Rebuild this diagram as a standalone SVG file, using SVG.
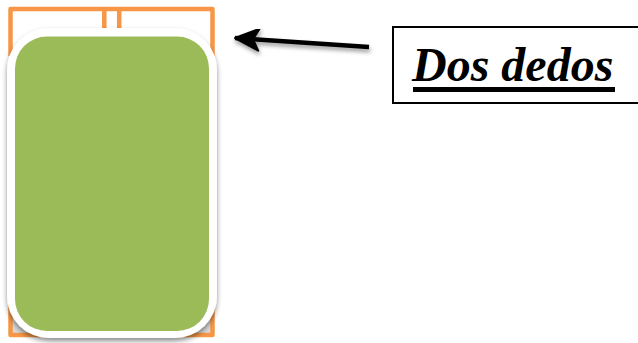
<svg xmlns="http://www.w3.org/2000/svg" width="638" height="343" viewBox="0 0 638 343">
<style>
.o{fill:none;stroke:#f79646;stroke-width:4.500;stroke-linejoin:round}
text{font-family:"Liberation Serif","Times New Roman",serif;font-weight:bold;font-style:italic;font-size:48px;fill:#000}
</style>
<defs>
<filter id="s" x="-10%" y="-10%" width="120%" height="120%"><feDropShadow dx="0" dy="3" stdDeviation="2.500" flood-color="#000" flood-opacity="0.45"/></filter>
<filter id="a" x="-20%" y="-100%" width="140%" height="320%"><feDropShadow dx="1" dy="3" stdDeviation="2" flood-color="#000" flood-opacity="0.4"/></filter>
<marker id="h" markerUnits="userSpaceOnUse" markerWidth="30" markerHeight="28" refX="27" refY="14" orient="auto" viewBox="0 0 30 28"><path d="M27 14L3 3L9 14L3 25Z" fill="#000" stroke="#000" stroke-width="2" stroke-linejoin="round"/></marker>
</defs>
<g id="back">
<path class="o" d="M10.500 56V9H212.500V56"/>
<path class="o" d="M104.300 9V32M119.200 9V32"/>
<path d="M10.500 305V335H212.500V305" fill="#d9d9d9" stroke="#f79646" stroke-width="4.500" stroke-linejoin="round"/>
</g>
<g id="card">
<rect x="7" y="28" width="210" height="310" rx="42" fill="#fff" filter="url(#s)"/>
<rect x="15" y="36.500" width="194" height="294.500" rx="32" fill="#9bbb59"/>
</g>
<g id="connectors">
<path d="M369 47L235 38" fill="none" stroke="#000" stroke-width="4.500" marker-end="url(#h)" filter="url(#a)"/>
</g>
<g id="label">
<rect x="393" y="27" width="250" height="76" fill="#fff" stroke="#000" stroke-width="2"/>
<text x="412" y="81">Dos dedos</text>
<rect x="413" y="87" width="202" height="5" fill="#000"/>
</g>
</svg>
